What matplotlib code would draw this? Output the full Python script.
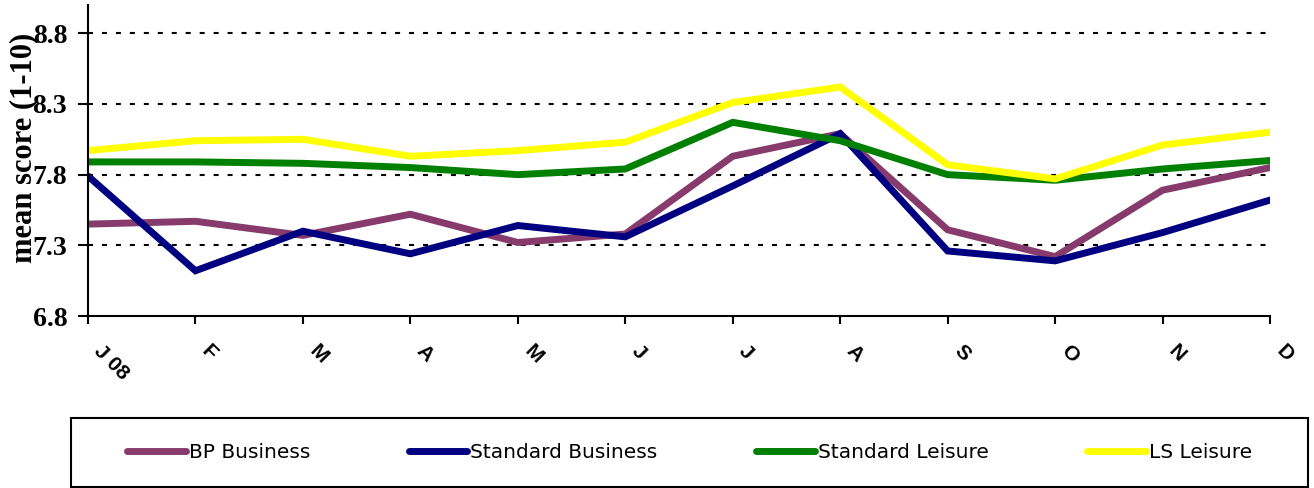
import matplotlib
matplotlib.use("Agg")
import matplotlib.pyplot as plt
from matplotlib.patches import Rectangle
import matplotlib.transforms as mtransforms

months = ["J 08", "F", "M", "A", "M", "J", "J", "A", "S", "O", "N", "D"]
bp_business = [7.45, 7.47, 7.37, 7.52, 7.32, 7.38, 7.93, 8.09, 7.41, 7.22, 7.69, 7.85]
standard_business = [7.79, 7.12, 7.40, 7.24, 7.44, 7.36, 7.72, 8.09, 7.26, 7.19, 7.39, 7.62]
standard_leisure = [7.89, 7.89, 7.88, 7.85, 7.80, 7.84, 8.17, 8.04, 7.80, 7.76, 7.84, 7.90]
ls_leisure = [7.97, 8.04, 8.05, 7.93, 7.97, 8.03, 8.31, 8.42, 7.87, 7.77, 8.01, 8.10]
y_ticks = [6.8, 7.3, 7.8, 8.3, 8.8]

series = [
    ("BP Business", bp_business, "#873B6C"),
    ("Standard Business", standard_business, "#000080"),
    ("Standard Leisure", standard_leisure, "#008000"),
    ("LS Leisure", ls_leisure, "#FFFF00"),
]

W, H = 1314, 488
fig = plt.figure(figsize=(W / 100, H / 100), dpi=100)
ax = fig.add_axes([88 / W, 1 - 316 / H, (1270 - 88) / W, (316 - 5) / H])

x = list(range(len(months)))
for name, vals, col in series:
    ax.plot(x, vals, color=col, lw=5, label=name,
            solid_capstyle="round", solid_joinstyle="miter")

ax.set_xlim(0, len(months) - 1)
ax.set_ylim(6.8, 9.0)
ax.set_yticks(y_ticks)
ax.set_yticklabels([f"{v:.1f}" for v in y_ticks],
                   fontfamily="Liberation Serif", fontweight="bold", fontsize=20)
for v in y_ticks[1:]:
    ax.axhline(v, color="black", lw=1.5, linestyle=(0, (2.4, 4.3)), zorder=0)

ax.set_xticks(x)
ax.set_xticklabels([])
lab_tr = ax.get_xaxis_transform() + mtransforms.ScaledTranslation(
    16 / 100, -25 / 100, fig.dpi_scale_trans)
for xi, m in zip(x, months):
    ax.text(xi, 0, m, transform=lab_tr, fontfamily="Liberation Sans",
            fontweight="bold", fontsize=15, rotation=-45, ha="left", va="top",
            rotation_mode="anchor", clip_on=False)

for s in ["top", "right"]:
    ax.spines[s].set_visible(False)
for s in ["left", "bottom"]:
    ax.spines[s].set_linewidth(1.5)
ax.tick_params(axis="x", direction="out", length=6, width=1.5)
ax.tick_params(axis="y", direction="out", length=7, width=1.5, pad=8)

fig.text(24 / W, 1 - 147.5 / H, "mean score (1-10)", rotation=90,
         ha="center", va="center", fontfamily="Liberation Serif",
         fontweight="bold", fontsize=22)

fig.legend(loc="center", bbox_to_anchor=(689.5 / W, 1 - 452.5 / H), ncol=4,
           frameon=False, fontsize=14.5, handlelength=2.9, handletextpad=0.15,
           columnspacing=4.9)
fig.patches.append(Rectangle((71 / W, 1 - 487 / H), (1308 - 71) / W, (487 - 418) / H,
                             transform=fig.transFigure, fill=False,
                             edgecolor="black", lw=1.5))

fig.savefig("out.png", dpi=100)
